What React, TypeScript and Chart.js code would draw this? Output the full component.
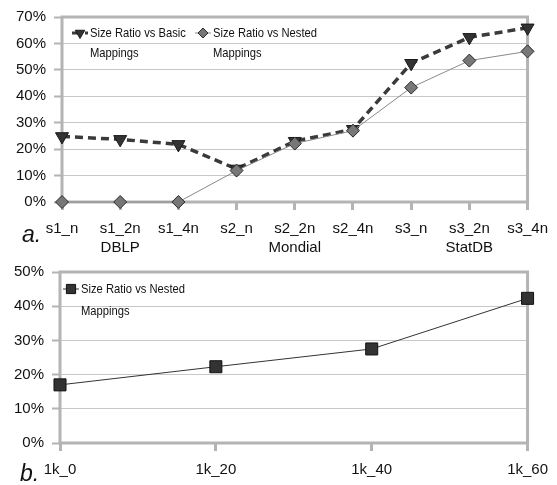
import React, { useEffect, useRef } from "react";
import { Chart, registerables } from "chart.js";
import { drawPoint } from "chart.js/helpers";

Chart.register(...registerables);

// ---------- data ----------
const topCategories = ["s1_n", "s1_2n", "s1_4n", "s2_n", "s2_2n", "s2_4n", "s3_n", "s3_2n", "s3_4n"];
const topGroups = ["", "DBLP", "", "", "Mondial", "", "", "StatDB", ""];
const basicRatio = [24.8, 23.7, 21.8, 12.5, 23.0, 27.5, 52.5, 62.3, 65.9];
const nestedRatio = [0, 0, 0, 11.9, 22.1, 27.0, 43.3, 53.5, 57.0];
const basicLabel = ["Size Ratio vs Basic", "Mappings"];
const nestedLabel = ["Size Ratio vs Nested", "Mappings"];
const topTicks = { min: 0, max: 70, step: 10 };

const bottomCategories = ["1k_0", "1k_20", "1k_40", "1k_60"];
const bottomNested = [17.0, 22.3, 27.5, 42.3];
const bottomLabel = ["Size Ratio vs Nested", "Mappings"];
const bottomTicks = { min: 0, max: 50, step: 10 };

// ---------- styles ----------
const FONT = '"Liberation Sans", Arial, sans-serif';
const FRAME = "#b4b4b4";
const GRID = "#c8c8c8";

const framePlugin = {
  id: "frame",
  beforeDatasetsDraw(chart: any) {
    const { ctx, chartArea } = chart;
    ctx.save();
    ctx.strokeStyle = FRAME;
    ctx.lineWidth = 3;
    ctx.strokeRect(chartArea.left, chartArea.top, chartArea.right - chartArea.left, chartArea.bottom - chartArea.top);
    ctx.restore();
  },
};

const innerLegend = {
  id: "innerLegend",
  afterDraw(chart: any, _args: any, opts: any) {
    const { ctx, chartArea } = chart;
    if (!opts || !opts.items) return;
    opts.items.forEach((it: any) => {
      const ds = chart.data.datasets[it.dataset];
      const x = chartArea.left + it.dx;
      const y = chartArea.top + it.dy;
      ctx.save();
      ctx.strokeStyle = ds.borderColor;
      ctx.lineWidth = Math.min(ds.borderWidth, 3);
      ctx.setLineDash(ds.borderDash || []);
      ctx.beginPath();
      ctx.moveTo(x, y);
      ctx.lineTo(x + 16, y);
      ctx.stroke();
      ctx.setLineDash([]);
      ctx.fillStyle = ds.pointBackgroundColor;
      ctx.strokeStyle = ds.pointBorderColor;
      ctx.lineWidth = 1;
      drawPoint(ctx, { pointStyle: ds.pointStyle, radius: it.radius, rotation: ds.pointRotation || 0, borderWidth: 1 }, x + 8, y);
      ctx.fillStyle = "#111";
      ctx.font = `13.5px ${FONT}`;
      ctx.textBaseline = "middle";
      ctx.textAlign = "left";
      (ds.label as string[]).forEach((line: string, i: number) => {
        ctx.save();
        ctx.translate(x + 18, y + i * it.lineHeight);
        ctx.scale(0.83, 1);
        ctx.fillText(line, 0, 0);
        ctx.restore();
      });
      ctx.restore();
    });
  },
};

function makeScales(labelsTickPad: number, ticks: { min: number; max: number; step: number }, yWidth: number, xHeight: number) {
  return {
    x: {
      type: "category" as const,
      offset: false,
      grid: {
        display: true,
        drawOnChartArea: false,
        drawTicks: true,
        tickLength: 8,
        tickColor: FRAME,
        tickWidth: 3,
      },
      border: { display: false },
      ticks: {
        color: "#111",
        font: { family: FONT, size: 15, lineHeight: 1.27 },
        padding: labelsTickPad,
        maxRotation: 0,
        autoSkip: false,
      },
      afterFit(scale: any) {
        scale.height = xHeight;
      },
    },
    y: {
      min: ticks.min,
      max: ticks.max,
      grid: {
        color: GRID,
        lineWidth: 1,
        tickLength: 8,
        tickColor: FRAME,
        tickWidth: 2,
      },
      border: { display: false },
      ticks: {
        stepSize: ticks.step,
        color: "#111",
        font: { family: FONT, size: 15 },
        padding: 8,
        callback: (v: any) => `${v}%`,
      },
      afterFit(scale: any) {
        scale.width = yWidth;
      },
    },
  };
}

function ChartCanvas({ config, width, height }: { config: any; width: number; height: number }) {
  const ref = useRef<HTMLCanvasElement | null>(null);
  useEffect(() => {
    if (!ref.current) return;
    const chart = new Chart(ref.current, config);
    return () => chart.destroy();
  }, []);
  return <canvas ref={ref} width={width} height={height} style={{ display: "block", width, height }} />;
}

const topConfig = {
  type: "line",
  data: {
    labels: topCategories.map((c, i) => (topGroups[i] ? [c, topGroups[i]] : c)),
    datasets: [
      {
        label: basicLabel,
        data: basicRatio,
        borderColor: "#3a3a3a",
        borderWidth: 3.5,
        borderDash: [8, 5],
        pointStyle: "triangle",
        pointRotation: 180,
        pointRadius: 7.5,
        pointBackgroundColor: "#333333",
        pointBorderColor: "#1a1a1a",
        pointBorderWidth: 1,
        tension: 0,
        order: 2,
        clip: false,
      },
      {
        label: nestedLabel,
        data: nestedRatio,
        borderColor: "#8a8a8a",
        borderWidth: 1,
        pointStyle: "rectRot",
        pointRadius: 6.5,
        pointBackgroundColor: "#777777",
        pointBorderColor: "#2a2a2a",
        pointBorderWidth: 1,
        tension: 0,
        order: 1,
        clip: false,
      },
    ],
  },
  options: {
    responsive: false,
    animation: false,
    layout: { padding: { left: 0, right: 29, top: 14, bottom: 0 } },
    plugins: {
      legend: { display: false },
      tooltip: { enabled: false },
      innerLegend: {
        items: [
          { dataset: 0, dx: 10, dy: 16, radius: 5.5, lineHeight: 20 },
          { dataset: 1, dx: 133, dy: 16, radius: 5, lineHeight: 20 },
        ],
      },
    },
    scales: makeScales(9, topTicks, 62, 53),
  },
  plugins: [framePlugin, innerLegend],
};

const bottomConfig = {
  type: "line",
  data: {
    labels: bottomCategories,
    datasets: [
      {
        label: bottomLabel,
        data: bottomNested,
        borderColor: "#333333",
        borderWidth: 1,
        pointStyle: "rect",
        pointRadius: 8.5,
        pointBackgroundColor: "#333333",
        pointBorderColor: "#111111",
        pointBorderWidth: 1,
        tension: 0,
        clip: false,
      },
    ],
  },
  options: {
    responsive: false,
    animation: false,
    layout: { padding: { left: 0, right: 29, top: 11, bottom: 0 } },
    plugins: {
      legend: { display: false },
      tooltip: { enabled: false },
      innerLegend: {
        items: [{ dataset: 0, dx: 3, dy: 17, radius: 6.5, lineHeight: 22 }],
      },
    },
    scales: makeScales(9, bottomTicks, 60, 42),
  },
  plugins: [framePlugin, innerLegend],
};

export default function App() {
  return (
    <div style={{ position: "absolute", left: 0, top: 0, width: 557, height: 485, background: "#fff", fontFamily: FONT }}>
      <div style={{ position: "absolute", left: 0, top: 0 }}>
        <ChartCanvas config={topConfig} width={557} height={255} />
      </div>
      <div style={{ position: "absolute", left: 0, top: 255 }}>
        <ChartCanvas config={bottomConfig} width={557} height={230} />
      </div>
      <span style={{ position: "absolute", left: 22, top: 221, fontSize: 23, fontStyle: "italic", lineHeight: "26px", color: "#111" }}>a.</span>
      <span style={{ position: "absolute", left: 20, top: 460, fontSize: 23, fontStyle: "italic", lineHeight: "26px", color: "#111" }}>b.</span>
    </div>
  );
}
